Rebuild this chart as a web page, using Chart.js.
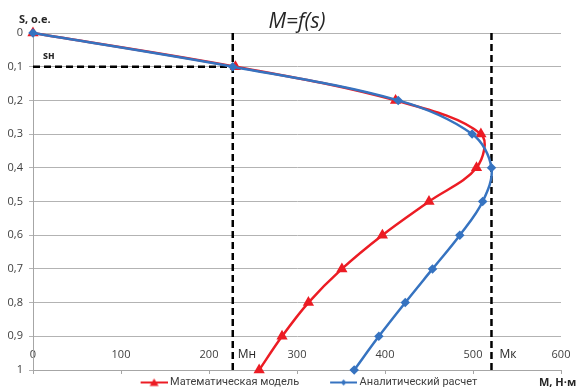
<!DOCTYPE html>
<html>
<head>
<meta charset="utf-8">
<script src="https://cdn.jsdelivr.net/npm/chart.js@4"></script>
<style>
  body { margin: 0; background: #fff; }
  canvas { display: block; }
</style>
</head>
<body>
<canvas id="chart" width="576" height="390"></canvas>
<script>
// скольжение s, о.е.
const sValues = [0, 0.1, 0.2, 0.3, 0.4, 0.5, 0.6, 0.7, 0.8, 0.9, 1.0];
// момент M, Н·м
const modelM = [0, 230, 412, 509, 504, 450, 397, 351, 313, 283, 257];
const calcM = [0, 227, 415, 499, 521, 511, 485, 454, 423, 393, 365];
const seriesNames = ['Математическая модель', 'Аналитический расчет'];

// пусковой и критический момент, номинальное скольжение
const mnValue = 227;
const mkValue = 521;
const snValue = 0.1;

const font = "'Open Sans', sans-serif";
const red = '#ec1c24';
const blue = '#3673c0';

function toPoints(mArr) {
    return mArr.map((m, i) => ({ x: m, y: sValues[i] }));
}

// значок легенды: линия с маркером (как в Excel)
function makeIcon(color, style) {
    let c = document.createElement('canvas');
    c.width = 54;
    c.height = 12;
    let g = c.getContext('2d');
    g.strokeStyle = color;
    g.fillStyle = color;
    g.lineWidth = 2;
    g.beginPath();
    g.moveTo(27, 6);
    g.lineTo(54, 6);
    g.stroke();
    g.beginPath();
    if (style === 'triangle') {
        g.moveTo(40.5, 2);
        g.lineTo(45, 9.5);
        g.lineTo(36, 9.5);
    } else {
        g.moveTo(40.5, 3);
        g.lineTo(43.5, 6);
        g.lineTo(40.5, 9);
        g.lineTo(37.5, 6);
    }
    g.closePath();
    g.fill();
    return c;
}

const legendIcons = [makeIcon(red, 'triangle'), makeIcon(blue, 'diamond')];

const dashed = {
    borderColor: '#000',
    borderWidth: 2.5,
    borderDash: [7, 4],
    pointRadius: 0,
    tension: 0,
    order: 2,
    clip: false
};

const textLabels = {
    id: 'textLabels',
    afterDraw(chart) {
        const { ctx, chartArea, scales } = chart;
        const xs = scales.x;
        const ys = scales.y;
        ctx.save();
        ctx.fillStyle = '#262626';
        ctx.textBaseline = 'middle';
        ctx.textAlign = 'left';

        ctx.font = `bold 11px ${font}`;
        ctx.fillText('S, o.e.', chartArea.left - 14, chartArea.top - 13);
        ctx.fillText('М, Н·м', chartArea.right - 22, chartArea.bottom + 13);

        ctx.font = `bold 10px ${font}`;
        ctx.fillText('sн', chartArea.left + 10, ys.getPixelForValue(snValue) - 11);

        ctx.font = `12px ${font}`;
        ctx.fillText('Мн', xs.getPixelForValue(mnValue) + 5, chartArea.bottom - 15);
        ctx.fillText('Мк', xs.getPixelForValue(mkValue) + 8, chartArea.bottom - 15);
        ctx.restore();
    }
};

const data = {
    datasets: [{
        label: seriesNames[0],
        data: toPoints(modelM),
        borderColor: red,
        backgroundColor: red,
        borderWidth: 2.5,
        pointStyle: 'triangle',
        pointRadius: 4,
        tension: 0.35,
        order: 1,
        clip: false
    }, {
        label: seriesNames[1],
        data: toPoints(calcM),
        borderColor: blue,
        backgroundColor: blue,
        borderWidth: 2.5,
        pointStyle: 'rectRot',
        pointRadius: 3,
        tension: 0.35,
        order: 0,
        clip: false
    }, {
        label: 'Mn',
        data: [{ x: mnValue, y: 0 }, { x: mnValue, y: 1 }],
        ...dashed
    }, {
        label: 'Mk',
        data: [{ x: mkValue, y: 0 }, { x: mkValue, y: 1 }],
        ...dashed
    }, {
        label: 'sn',
        data: [{ x: 0, y: snValue }, { x: mnValue, y: snValue }],
        ...dashed
    }]
};

const config = {
    type: 'line',
    data: data,
    options: {
        responsive: false,
        animation: false,
        events: [],
        layout: {
            padding: { left: 0, right: 15, top: 0, bottom: 0 }
        },
        scales: {
            x: {
                type: 'linear',
                min: 0,
                max: 600,
                afterFit: s => {
                    s.height = 0;
                    s.paddingLeft = 0;
                    s.paddingRight = 0;
                },
                ticks: {
                    stepSize: 100,
                    mirror: true,
                    padding: 9,
                    color: '#404040',
                    font: { family: font, size: 11 }
                },
                grid: {
                    drawOnChartArea: false,
                    tickLength: 4,
                    color: '#a6a6a6'
                },
                border: { color: '#a6a6a6' }
            },
            y: {
                type: 'linear',
                reverse: true,
                min: 0,
                max: 1,
                afterFit: s => {
                    s.width = 33;
                    s.paddingTop = 0;
                    s.paddingBottom = 0;
                },
                ticks: {
                    stepSize: 0.1,
                    padding: 6,
                    color: '#404040',
                    font: { family: font, size: 11 },
                    callback: v => {
                        if (Math.abs(v) < 1e-9) return '0';
                        if (Math.abs(v - 1) < 1e-9) return '1';
                        return v.toFixed(1).replace('.', ',');
                    }
                },
                grid: {
                    color: '#b3b3b3',
                    tickLength: 4
                },
                border: { color: '#a6a6a6' }
            }
        },
        plugins: {
            title: {
                display: true,
                text: 'M=f(s)',
                fullSize: false,
                color: '#262626',
                font: { family: font, size: 21, style: 'italic', weight: 'normal', lineHeight: 1 },
                padding: { top: 12, bottom: 0 }
            },
            legend: {
                position: 'bottom',
                fullSize: false,
                maxHeight: 20,
                labels: {
                    usePointStyle: true,
                    pointStyleWidth: 48,
                    padding: 7,
                    color: '#404040',
                    font: { family: 'Roboto, sans-serif', size: 11 },
                    filter: item => item.datasetIndex < 2,
                    generateLabels: chart => {
                        let items = Chart.defaults.plugins.legend.labels.generateLabels(chart);
                        items.sort((a, b) => a.datasetIndex - b.datasetIndex);
                        items.forEach(it => {
                            if (it.datasetIndex < 2) it.pointStyle = legendIcons[it.datasetIndex];
                        });
                        return items;
                    }
                }
            },
            tooltip: { enabled: false }
        }
    },
    plugins: [textLabels]
};

const chart = new Chart(
    document.getElementById('chart').getContext('2d'),
    config
);
</script>
</body>
</html>
